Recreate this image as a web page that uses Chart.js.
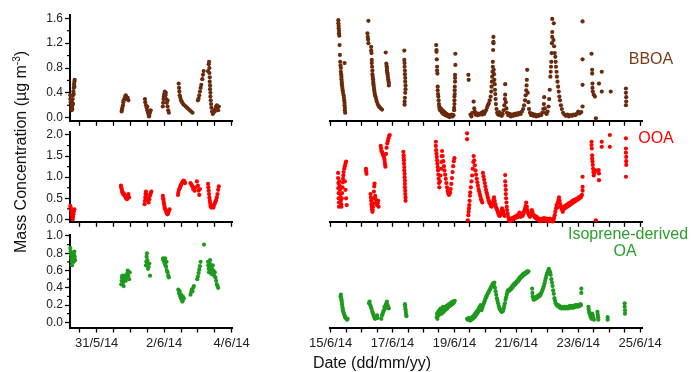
<!DOCTYPE html>
<html><head><meta charset="utf-8">
<script src="https://cdn.jsdelivr.net/npm/chart.js@4.4.1/dist/chart.umd.min.js"></script>
<style>
html,body{margin:0;padding:0;background:#fff;}
#wrap{position:relative;width:693px;height:372px;overflow:hidden;font-family:"Liberation Sans",Arial,sans-serif;}
canvas{position:absolute;left:0;top:0;}
.lbl{position:absolute;width:200px;text-align:center;white-space:nowrap;font-size:16px;line-height:16px;}
.ytitle{position:absolute;left:-129px;top:143px;width:300px;height:18px;line-height:18px;text-align:center;font-size:16px;color:#111;transform:rotate(-90deg);white-space:nowrap;}
.ytitle sup{font-size:10px;vertical-align:6px;line-height:0;}
</style></head><body>
<div id="wrap">
<canvas id="cL1" width="693" height="372"></canvas>
<canvas id="cR1" width="693" height="372"></canvas>
<canvas id="cL2" width="693" height="372"></canvas>
<canvas id="cR2" width="693" height="372"></canvas>
<canvas id="cL3" width="693" height="372"></canvas>
<canvas id="cR3" width="693" height="372"></canvas>
<div class="lbl" style="left:551px;top:51px;color:#7b3a16">BBOA</div>
<div class="lbl" style="left:556px;top:130px;color:#ff0000">OOA</div>
<div class="lbl" style="left:528px;top:226px;color:#2ca02c">Isoprene-derived</div>
<div class="lbl" style="left:525px;top:243px;color:#2ca02c">OA</div>
<div class="ytitle">Mass Concentration (µg m<sup>-3</sup>)</div>
<div class="lbl" style="left:272px;top:355px;color:#111">Date (dd/mm/yy)</div>
</div>
<script>
// x values: days, 0 = 31/5/14, 1 = 1/6/14, ..., 15 = 15/6/14
const xTicksLeft = [-0.5,0,0.5,1,1.5,2,2.5,3,3.5,4];
const xTicksRight = [15,15.5,16,16.5,17,17.5,18,18.5,19,19.5,20,20.5,21,21.5,22,22.5,23,23.5,24,24.5,25];
const xLabelValues = [0,2,4,15,17,19,21,23,25];
const xLabelTexts = ['31/5/14','2/6/14','4/6/14','15/6/14','17/6/14','19/6/14','21/6/14','23/6/14','25/6/14'];
const bboaTicks = [0,0.4,0.8,1.2,1.6];
const bboaMinor = [0.2,0.6,1.0,1.4];
const ooaTicks = [0,0.5,1.0,1.5,2.0];
const ooaMinor = [0.25,0.75,1.25,1.75];
const isoTicks = [0,0.2,0.4,0.6,0.8,1.0];
const isoMinor = [0.1,0.3,0.5,0.7,0.9];

const bboaLeft = [
[-0.78,0.36],[-0.78,0.30],[-0.77,0.25],[-0.76,0.20],[-0.75,0.15],[-0.74,0.12],[-0.73,0.18],[-0.72,0.24],[-0.71,0.30],[-0.70,0.36],[-0.69,0.42],[-0.68,0.48],[-0.67,0.54],[-0.66,0.58],[-0.65,0.61],[-0.66,0.50],[-0.68,0.38],[-0.70,0.22],[-0.72,0.14],
[0.74,0.10],[0.75,0.13],[0.76,0.16],[0.78,0.20],[0.79,0.25],[0.80,0.28],[0.82,0.30],[0.84,0.33],[0.86,0.36],[0.88,0.34],[0.90,0.30],[0.92,0.32],[0.94,0.28],
[1.43,0.30],[1.44,0.25],[1.46,0.20],[1.48,0.16],[1.50,0.12],[1.52,0.08],[1.54,0.05],[1.56,0.03],[1.58,0.08],[1.60,0.12],[1.50,0.18],[1.55,0.02],
[1.96,0.18],[1.97,0.24],[1.98,0.30],[1.99,0.34],[2.00,0.38],[2.02,0.42],[2.04,0.36],[2.06,0.30],[2.08,0.24],[2.10,0.18],[2.12,0.12],[2.14,0.08],[2.05,0.40],[2.10,0.28],
[2.43,0.55],[2.44,0.48],[2.45,0.42],[2.46,0.36],[2.48,0.32],[2.50,0.28],[2.53,0.25],[2.56,0.22],[2.60,0.20],[2.64,0.18],[2.68,0.16],[2.72,0.14],[2.76,0.12],[2.80,0.10],[2.84,0.08],
[3.00,0.28],[3.02,0.31],[3.04,0.36],[3.06,0.42],[3.08,0.48],[3.10,0.53],[3.13,0.62],[3.15,0.69],[3.17,0.75],
[3.30,0.75],[3.32,0.86],[3.33,0.90],[3.34,0.80],[3.34,0.72],[3.35,0.65],[3.35,0.58],[3.36,0.52],[3.36,0.46],[3.37,0.40],[3.37,0.34],[3.38,0.28],[3.39,0.22],[3.40,0.16],[3.42,0.10],[3.44,0.06],[3.46,0.08],[3.48,0.12],[3.50,0.10],[3.52,0.14],[3.54,0.18],[3.56,0.20],[3.58,0.16],[3.60,0.12],[3.62,0.18]
];
const bboaRight = [
[15.25,1.57],[15.25,1.52],[15.26,1.48],[15.26,1.44],[15.27,1.40],[15.27,1.36],[15.28,1.32],[15.29,1.17],[15.30,1.01],[15.31,0.90],[15.32,0.84],[15.33,0.80],[15.33,0.74],[15.34,0.70],[15.35,0.66],[15.35,0.62],[15.36,0.58],[15.36,0.55],[15.37,0.52],[15.38,0.48],[15.39,0.44],[15.40,0.40],[15.45,0.88],[15.42,0.36],[15.43,0.32],[15.44,0.28],[15.45,0.24],[15.45,0.20],[15.46,0.16],[15.46,0.12],[15.47,0.08],
[16.22,1.56],[16.19,1.36],[16.20,1.30],[16.21,1.26],[16.22,1.20],[16.31,1.14],[16.31,1.08],[16.32,1.04],[16.33,0.93],[16.33,0.88],[16.34,0.82],[16.35,0.76],[16.35,0.70],[16.36,0.66],[16.37,0.62],[16.38,0.58],[16.38,0.55],[16.39,0.52],[16.40,0.48],[16.41,0.44],[16.42,0.40],[16.43,0.37],[16.45,0.34],[16.47,0.30],[16.49,0.26],[16.52,0.22],[16.55,0.19],[16.58,0.17],[16.62,0.15],[16.66,0.13],
[16.78,1.05],[16.80,0.87],[16.81,0.83],[16.82,0.80],[16.82,0.76],[16.83,0.73],[16.84,0.70],[16.85,0.66],[16.86,0.62],[16.87,0.59],[16.88,0.56],[16.88,0.52],
[17.38,1.08],[17.38,0.93],[17.39,0.88],[17.39,0.82],[17.40,0.76],[17.40,0.70],[17.41,0.64],[17.41,0.58],[17.42,0.52],[17.42,0.46],[17.41,0.40],[17.40,0.32],[17.39,0.26],[17.39,0.21],
[18.41,1.17],[18.42,1.09],[18.42,1.06],[18.43,0.94],[18.44,0.82],[18.44,0.76],[18.45,0.71],[18.46,0.50],[18.46,0.44],[18.47,0.38],[18.48,0.34],[18.49,0.28],[18.50,0.22],[18.51,0.18],[18.52,0.14],[18.54,0.12],[18.56,0.15],[18.58,0.10],[18.60,0.08],[18.62,0.12],[18.64,0.06],[18.66,0.10],[18.68,0.05],[18.70,0.08],[18.72,0.04],[18.74,0.06],[18.76,0.03],[18.78,0.05],[18.80,0.02],[18.82,0.04],[18.85,0.01],[18.88,0.03],[18.91,0.05],[18.94,0.02],[18.97,0.04],
[19.03,1.03],[19.03,0.85],[19.02,0.69],[19.02,0.64],[19.02,0.58],[19.01,0.50],[19.01,0.44],[19.01,0.38],[19.00,0.34],[19.00,0.28],[19.00,0.22],[18.99,0.16],[18.99,0.12],
[19.45,0.69],[19.46,0.61],[19.52,0.05],[19.55,0.02],[19.58,0.08],[19.62,0.26],[19.64,0.15],[19.66,0.10],[19.68,0.05],[19.72,0.07],[19.75,0.04],[19.78,0.06],[19.82,0.05],
[19.87,0.08],[19.90,0.05],[19.93,0.10],[19.96,0.06],[19.99,0.09],[20.02,0.12],[20.05,0.16],[20.08,0.20],[20.11,0.23],[20.14,0.28],[20.17,0.34],[20.19,0.42],[20.20,0.50],[20.21,0.58],[20.22,0.66],[20.23,0.74],[20.24,0.82],[20.24,0.90],[20.25,1.09],[20.26,1.20],[20.26,1.22],[20.26,1.30],[20.27,0.77],[20.28,0.70],[20.29,0.61],[20.30,0.54],[20.31,0.45],[20.32,0.38],[20.33,0.30],[20.34,0.22],[20.36,0.14],[20.38,0.08],[20.41,0.05],[20.44,0.09],[20.47,0.04],[20.50,0.07],[20.53,0.03],[20.56,0.06],[20.59,0.12],[20.61,0.20],[20.63,0.30],[20.64,0.37],[20.64,0.54],[20.66,0.25],[20.68,0.15],[20.70,0.08],[20.74,0.04],[20.78,0.06],[20.82,0.02],[20.86,0.05],[20.90,0.03],[20.94,0.06],[20.98,0.04],[21.02,0.07],[21.06,0.05],[21.10,0.08],[21.14,0.06],[21.18,0.10],[21.22,0.14],[21.25,0.20],[21.28,0.28],[21.30,0.36],[21.32,0.44],[21.33,0.52],[21.34,0.61],[21.35,0.77],[21.37,0.40],[21.39,0.25],[21.41,0.14],[21.44,0.08],[21.48,0.04],[21.52,0.06],[21.56,0.03],[21.60,0.05],[21.64,0.02],[21.68,0.04],[21.72,0.03],[21.76,0.05],[21.80,0.04],[21.84,0.08],[21.87,0.14],[21.89,0.22],[21.90,0.33],[21.92,0.15],[21.95,0.08],[21.98,0.06],[22.01,0.10],[22.04,0.18],[22.06,0.30],[22.08,0.45],[22.10,0.66],[22.11,0.74],[22.12,0.82],[22.13,0.90],[22.14,1.04],[22.15,1.20],[22.16,1.30],[22.16,1.38],[22.16,1.59],[22.21,1.52],[22.20,1.25],[22.22,1.15],[22.24,1.04],[22.26,0.98],[22.27,0.90],[22.28,0.82],[22.30,0.74],[22.31,0.66],[22.33,0.58],[22.35,0.50],[22.37,0.42],[22.39,0.34],[22.41,0.28],[22.44,0.20],[22.47,0.14],[22.51,0.08],[22.55,0.05],[22.60,0.03],[22.65,0.05],[22.70,0.02],[22.75,0.04],[22.80,0.03],[22.85,0.05],[22.90,0.04],[22.95,0.06],[23.00,0.10],[23.05,0.07],[23.10,0.09],
[23.14,1.55],[23.14,0.94],[23.14,0.53],[23.14,0.18],[23.43,1.03],[23.45,0.77],[23.45,0.71],[23.46,0.55],[23.46,0.48],[23.47,0.42],[23.50,0.37],[23.54,0.34],[23.57,-0.01],[23.67,0.55],[23.76,0.74],[23.76,0.42],[24.05,0.42],[24.54,0.47],[24.54,0.40],[24.55,0.33],[24.55,0.26],[24.54,0.20]
];
const ooaLeft = [
[-0.78,0.32],[-0.77,0.28],[-0.76,0.22],[-0.75,0.18],[-0.74,0.12],[-0.73,0.08],[-0.72,0.04],[-0.71,0.00],[-0.70,0.06],[-0.69,0.12],[-0.68,0.18],[-0.67,0.22],[-0.66,0.24],
[0.72,0.80],[0.73,0.76],[0.74,0.72],[0.75,0.68],[0.76,0.64],[0.78,0.60],[0.80,0.62],[0.82,0.58],[0.84,0.55],[0.86,0.52],[0.88,0.50],[0.90,0.48],[0.92,0.56],[0.94,0.60],[0.96,0.52],
[1.42,0.36],[1.43,0.44],[1.44,0.52],[1.45,0.60],[1.46,0.66],[1.48,0.58],[1.50,0.50],[1.52,0.44],[1.54,0.40],[1.56,0.48],[1.58,0.56],[1.60,0.62],[1.62,0.66],
[1.96,0.56],[1.97,0.50],[1.98,0.46],[1.99,0.40],[2.00,0.35],[2.01,0.30],[2.02,0.26],[2.04,0.22],[2.06,0.18],[2.08,0.14],[2.10,0.12],[2.12,0.16],[2.14,0.20],[2.16,0.24],
[2.41,0.58],[2.42,0.64],[2.44,0.70],[2.46,0.74],[2.48,0.78],[2.50,0.82],[2.52,0.85],[2.54,0.88],[2.56,0.90],[2.58,0.92],[2.60,0.90],[2.62,0.86],
[2.78,0.86],[2.81,0.82],[2.84,0.78],[2.86,0.72],[2.90,0.68],[2.94,0.76],[2.97,0.90],[3.00,0.80],[3.02,0.68],[3.04,0.58],[3.06,0.72],
[3.30,0.84],[3.31,0.76],[3.32,0.68],[3.33,0.60],[3.34,0.52],[3.35,0.46],[3.36,0.40],[3.37,0.34],[3.38,0.30],[3.40,0.28],[3.42,0.30],[3.44,0.32],[3.46,0.28],[3.48,0.34],[3.50,0.38],[3.52,0.42],[3.54,0.46],[3.56,0.52],[3.58,0.60],[3.60,0.70],[3.62,0.78]
];
const ooaRight = [
[15.24,1.10],[15.24,0.98],[15.25,0.86],[15.25,0.74],[15.26,0.62],[15.26,0.50],[15.27,0.40],[15.27,0.30],[15.28,0.90],[15.29,0.80],[15.30,0.70],[15.31,0.60],[15.32,0.52],[15.33,0.44],[15.34,0.36],[15.35,0.30],[15.36,0.50],[15.37,0.62],[15.38,0.76],[15.39,0.88],[15.40,0.96],[15.41,1.04],[15.42,1.12],[15.44,1.20],[15.46,1.26],[15.48,1.32],[15.50,1.37],[15.46,0.90],[15.48,0.70],[15.50,0.50],[15.52,0.34],
[16.14,1.20],[16.15,1.14],[16.16,1.08],
[16.29,0.60],[16.30,0.52],[16.31,0.44],[16.32,0.36],[16.33,0.30],[16.34,0.24],[16.35,0.18],[16.36,0.22],[16.37,0.30],[16.38,0.38],[16.39,0.50],[16.40,0.66],[16.41,0.78],[16.42,0.85],[16.44,0.56],[16.46,0.48],[16.48,0.40],[16.50,0.34],[16.52,0.38],[16.54,0.44],[16.55,0.30],
[16.62,1.74],[16.63,1.68],[16.64,1.62],[16.66,1.60],[16.68,1.56],[16.70,1.52],[16.72,1.48],[16.74,1.42],[16.75,1.36],[16.76,1.30],[16.77,1.25],[16.79,1.55],[16.81,1.70],[16.83,1.80],[16.85,1.86],[16.87,1.92],[16.89,1.98],[16.91,2.00],
[17.35,1.60],[17.36,1.52],[17.36,1.46],[17.37,1.40],[17.37,1.32],[17.38,1.24],[17.38,1.16],[17.39,1.08],[17.39,1.00],[17.40,0.92],[17.40,0.84],[17.40,0.76],[17.41,0.68],[17.41,0.60],[17.42,0.52],[17.42,0.44],
[18.40,1.84],[18.40,1.74],[18.41,1.64],[18.42,1.56],[18.43,1.48],[18.44,1.40],[18.45,1.32],[18.46,1.24],[18.47,1.16],[18.48,1.06],[18.49,0.96],[18.50,0.86],[18.51,0.76],[18.53,0.90],[18.55,1.04],[18.57,1.20],[18.58,1.36],[18.59,1.50],[18.60,1.62],[18.62,1.50],[18.64,1.38],[18.66,1.26],[18.68,1.16],[18.70,1.06],[18.72,0.96],[18.74,0.86],[18.76,0.76],[18.78,0.68],[18.80,0.62],[18.82,0.58],[18.84,0.60],[18.86,0.64],[18.88,0.72],[18.90,0.84],[18.92,0.98],[18.94,1.12],[18.96,1.26],[18.98,1.38],[19.00,1.45],
[19.41,2.04],[19.41,1.90],[19.43,-0.02],[19.45,0.10],[19.46,0.18],[19.47,0.26],[19.48,0.34],[19.49,0.44],[19.50,0.56],[19.51,0.64],[19.53,0.76],[19.55,0.90],[19.57,1.04],[19.59,1.20],[19.61,1.36],[19.62,1.50],[19.64,1.40],[19.66,1.28],[19.68,1.16],[19.70,1.06],[19.72,0.96],[19.74,0.88],[19.76,0.80],[19.78,0.72],[19.80,0.66],[19.82,0.60],[19.84,0.54],[19.86,0.48],[19.88,0.44],[19.90,0.40],
[19.92,1.10],[19.94,1.02],[19.96,0.94],[19.98,0.86],[20.00,0.78],[20.02,0.70],[20.04,0.64],[20.06,0.58],[20.08,0.52],[20.10,0.46],[20.12,0.42],[20.14,0.38],[20.16,0.36],[20.18,0.32],[20.20,0.30],[20.22,0.34],[20.24,0.40],[20.26,0.46],[20.28,0.52],[20.30,0.44],[20.32,0.36],[20.34,0.30],[20.36,0.26],[20.38,0.22],[20.40,0.18],[20.42,0.14],[20.44,0.10],[20.46,0.08],[20.48,0.10],[20.50,0.14],[20.52,0.20],[20.54,0.26],[20.56,0.22],[20.58,0.18],[20.60,0.12],[20.62,0.08],[20.64,1.05],[20.64,0.90],[20.65,0.80],[20.66,0.70],[20.66,0.60],[20.67,0.50],[20.68,0.40],[20.69,0.30],[20.70,0.22],[20.72,0.14],[20.74,0.06],[20.76,0.00],[20.78,-0.04],[20.80,0.00],[20.82,-0.03],[20.84,0.02],[20.86,-0.02],[20.88,0.03],[20.90,0.00],[20.92,0.05],[20.94,0.02],[20.96,0.06],[20.98,0.04],[21.00,0.08],[21.02,0.05],[21.04,0.10],[21.06,0.06],[21.08,0.12],[21.10,0.16],[21.12,0.10],[21.14,0.06],[21.16,0.10],[21.18,0.14],[21.20,0.08],[21.22,0.12],[21.24,0.16],[21.26,0.20],[21.28,0.26],[21.30,0.32],[21.32,0.40],[21.34,0.30],[21.36,0.22],[21.38,0.16],[21.40,0.12],[21.42,0.08],[21.44,0.06],[21.46,0.10],[21.48,0.16],[21.50,0.22],[21.52,0.18],[21.54,0.12],[21.56,0.10],[21.58,0.06],[21.60,0.08],[21.62,0.04],[21.64,0.02],[21.66,0.06],[21.68,0.03],[21.70,0.00],[21.72,-0.02],[21.74,0.02],[21.76,-0.03],[21.78,0.00],[21.80,-0.04],[21.82,0.01],[21.84,-0.02],[21.86,0.02],[21.88,-0.01],[21.90,0.03],[21.92,0.00],[21.94,-0.03],[21.96,0.02],[21.98,-0.02],[22.00,0.01],[22.02,-0.04],[22.04,0.00],[22.06,-0.03],[22.08,0.02],[22.10,-0.02],[22.12,0.00],[22.14,-0.04],[22.16,-0.01],[22.18,-0.05],[22.20,0.00],[22.22,0.04],[22.24,0.10],[22.26,0.18],[22.28,0.26],[22.30,0.34],[22.32,0.28],[22.34,0.40],[22.36,0.46],[22.38,0.52],[22.40,0.44],[22.42,0.36],[22.44,0.30],[22.46,0.26],[22.48,0.22],[22.50,0.18],[22.52,0.24],[22.54,0.30],[22.56,0.26],[22.58,0.32],[22.60,0.28],[22.62,0.34],[22.64,0.30],[22.66,0.36],[22.68,0.32],[22.70,0.38],[22.72,0.34],[22.74,0.40],[22.76,0.36],[22.78,0.42],[22.80,0.38],[22.82,0.44],[22.84,0.40],[22.86,0.46],[22.88,0.42],[22.90,0.47],[22.92,0.44],[22.94,0.48],[22.96,0.46],[22.98,0.50],[23.00,0.48],[23.02,0.52],[23.04,0.50],[23.06,0.54],[23.08,0.52],[23.10,0.56],[23.12,0.58],[23.14,1.01],[23.14,0.77],[23.14,0.68],
[23.43,1.84],[23.43,1.76],[23.44,1.68],[23.45,1.52],[23.45,1.44],[23.46,1.37],[23.47,1.29],[23.48,1.20],[23.49,1.12],[23.50,1.04],[23.52,1.10],[23.54,1.14],[23.56,1.16],[23.57,-0.02],[23.66,1.17],[23.67,1.09],[23.67,0.93],[23.76,1.84],[23.76,1.72],[24.02,2.00],[24.02,1.72],[24.54,1.92],[24.54,1.68],[24.54,1.58],[24.55,1.48],[24.55,1.38],[24.55,1.29],[24.54,1.01]
];
const isoLeft = [
[-0.78,0.86],[-0.77,0.82],[-0.76,0.78],[-0.75,0.74],[-0.74,0.70],[-0.73,0.66],[-0.72,0.72],[-0.71,0.76],[-0.70,0.80],[-0.69,0.74],[-0.68,0.70],[-0.67,0.78],[-0.66,0.82],[-0.65,0.76],[-0.64,0.72],
[0.73,0.44],[0.74,0.48],[0.75,0.52],[0.76,0.54],[0.78,0.46],[0.80,0.42],[0.82,0.50],[0.84,0.54],[0.86,0.48],[0.88,0.52],[0.90,0.56],[0.92,0.60],[0.94,0.54],[0.96,0.50],[0.98,0.58],
[1.46,0.66],[1.47,0.70],[1.48,0.76],[1.49,0.80],[1.50,0.72],[1.51,0.68],[1.52,0.62],[1.54,0.64],[1.56,0.68],[1.58,0.54],
[1.97,0.74],[1.98,0.72],[2.00,0.70],[2.02,0.68],[2.04,0.66],[2.06,0.64],[2.08,0.60],[2.10,0.58],[2.12,0.54],[2.14,0.52],[2.03,0.74],[2.07,0.70],
[2.42,0.38],[2.44,0.34],[2.46,0.32],[2.48,0.30],[2.50,0.28],[2.52,0.26],[2.54,0.24],[2.56,0.26],[2.58,0.28],[2.46,0.36],[2.50,0.32],[2.55,0.30],
[2.78,0.32],[2.80,0.35],[2.82,0.38],[2.84,0.36],[2.86,0.40],[2.88,0.42],
[2.98,0.50],[3.00,0.53],[3.02,0.57],[3.04,0.61],[3.06,0.65],[3.08,0.70],[3.18,0.90],
[3.30,0.70],[3.31,0.66],[3.32,0.62],[3.33,0.58],[3.34,0.64],[3.35,0.68],[3.36,0.72],[3.37,0.66],[3.38,0.60],[3.40,0.56],[3.42,0.62],[3.44,0.66],[3.46,0.60],[3.48,0.54],[3.50,0.58],[3.52,0.52],[3.54,0.48],[3.56,0.44],[3.58,0.42],[3.60,0.40]
];
const isoRight = [
[15.32,0.30],[15.33,0.32],[15.34,0.28],[15.35,0.26],[15.36,0.24],[15.37,0.21],[15.38,0.18],[15.39,0.16],[15.40,0.14],[15.41,0.12],[15.43,0.10],[15.45,0.08],[15.47,0.06],[15.49,0.05],[15.51,0.04],[15.53,0.03],[15.55,0.04],
[16.24,0.22],[16.26,0.24],[16.28,0.20],[16.30,0.18],[16.32,0.16],[16.34,0.13],[16.36,0.11],[16.38,0.09],[16.40,0.07],[16.42,0.05],[16.44,0.04],[16.46,0.06],[16.48,0.05],[16.50,0.08],[16.52,0.05],
[16.64,0.04],[16.66,0.08],[16.68,0.10],[16.70,0.12],[16.72,0.14],[16.74,0.18],[16.76,0.16],[16.78,0.20],[16.80,0.22],[16.82,0.24],[16.84,0.20],[16.86,0.18],[16.88,0.16],
[17.40,0.21],[17.41,0.18],[17.42,0.15],[17.43,0.12],[17.44,0.09],[17.45,0.07],
[18.43,0.06],[18.44,0.10],[18.45,0.04],[18.47,0.12],[18.49,0.08],[18.51,0.14],[18.53,0.10],[18.55,0.16],[18.57,0.12],[18.59,0.10],[18.61,0.14],[18.63,0.18],[18.65,0.12],[18.67,0.16],[18.69,0.14],[18.71,0.18],[18.73,0.15],[18.75,0.19],[18.77,0.16],[18.79,0.20],[18.81,0.18],[18.83,0.21],[18.85,0.19],[18.87,0.22],[18.89,0.20],[18.91,0.23],[18.93,0.21],[18.95,0.24],[18.97,0.22],[18.99,0.24],[19.01,0.25],
[19.41,0.04],[19.43,0.03],[19.45,0.05],[19.47,0.03],[19.49,0.04],[19.51,0.02],[19.53,0.05],[19.55,0.03],[19.57,0.06],[19.59,0.04],[19.61,0.05],[19.63,0.08],[19.65,0.06],[19.67,0.10],[19.69,0.08],[19.71,0.12],[19.73,0.10],[19.75,0.14],[19.77,0.12],[19.79,0.16],[19.81,0.18],[19.83,0.16],[19.85,0.20],
[19.87,0.14],[19.89,0.16],[19.91,0.18],[19.93,0.20],[19.95,0.22],[19.97,0.24],[19.99,0.26],[20.01,0.28],[20.03,0.30],[20.05,0.31],[20.07,0.33],[20.09,0.34],[20.11,0.35],[20.13,0.37],[20.15,0.38],[20.17,0.40],[20.19,0.41],[20.21,0.42],[20.23,0.44],[20.25,0.45],[20.27,0.43],[20.29,0.46],[20.31,0.40],[20.33,0.36],[20.35,0.32],[20.37,0.28],[20.39,0.25],[20.41,0.22],[20.43,0.19],[20.45,0.17],[20.47,0.15],[20.49,0.14],[20.51,0.13],[20.53,0.12],[20.55,0.14],[20.57,0.13],[20.59,0.16],[20.61,0.19],[20.63,0.22],[20.65,0.26],[20.67,0.29],[20.69,0.32],[20.71,0.35],[20.73,0.37],[20.75,0.36],[20.77,0.38],[20.79,0.37],[20.81,0.39],[20.83,0.40],[20.85,0.39],[20.87,0.42],[20.89,0.41],[20.91,0.44],[20.93,0.43],[20.95,0.45],[20.97,0.44],[20.99,0.46],[21.01,0.47],[21.03,0.48],[21.05,0.47],[21.07,0.50],[21.09,0.49],[21.11,0.52],[21.13,0.51],[21.15,0.53],[21.17,0.54],[21.19,0.53],[21.21,0.55],[21.23,0.56],[21.25,0.55],[21.27,0.57],[21.29,0.56],[21.31,0.58],[21.33,0.57],[21.35,0.59],[21.37,0.58],[21.39,0.59],
[21.51,0.39],[21.52,0.34],[21.53,0.30],[21.55,0.27],[21.57,0.26],[21.59,0.28],[21.61,0.27],[21.63,0.29],[21.65,0.28],[21.67,0.30],[21.69,0.29],[21.71,0.31],[21.73,0.30],[21.75,0.32],[21.77,0.31],[21.79,0.33],[21.81,0.34],[21.83,0.36],[21.85,0.38],[21.87,0.40],[21.89,0.42],[21.91,0.45],[21.93,0.48],[21.95,0.51],[21.97,0.54],[21.99,0.56],[22.01,0.58],[22.03,0.60],[22.05,0.62],[22.07,0.60],[22.09,0.58],[22.11,0.55],[22.13,0.50],[22.15,0.46],[22.17,0.42],[22.19,0.37],[22.21,0.33],[22.23,0.28],[22.25,0.25],[22.27,0.22],[22.29,0.21],[22.31,0.20],[22.33,0.19],[22.35,0.20],[22.37,0.18],[22.39,0.19],[22.41,0.17],[22.43,0.18],[22.45,0.16],[22.47,0.18],[22.49,0.17],[22.51,0.18],[22.53,0.16],[22.55,0.17],[22.57,0.18],[22.59,0.16],[22.61,0.17],[22.63,0.18],[22.65,0.17],[22.67,0.16],[22.69,0.18],[22.71,0.17],[22.73,0.19],[22.75,0.17],[22.77,0.18],[22.79,0.17],[22.81,0.19],[22.83,0.18],[22.85,0.17],[22.87,0.19],[22.89,0.18],[22.91,0.20],[22.93,0.18],[22.95,0.19],[22.97,0.20],[22.99,0.18],[23.01,0.19],[23.03,0.20],[23.05,0.19],[23.07,0.21],[23.09,0.20],[23.10,0.39],[23.10,0.34],
[23.33,0.18],[23.34,0.15],[23.35,0.12],[23.37,0.10],[23.39,0.08],[23.41,0.06],[23.43,0.04],[23.45,0.10],[23.47,0.08],[23.49,0.05],[23.51,0.03],[23.62,0.12],[23.63,0.09],[23.64,0.06],[23.65,0.03],[23.95,0.06],[23.95,0.03],[24.50,0.22],[24.50,0.18],[24.51,0.14],[24.51,0.10]
];

const FONT = '"Liberation Sans", Arial, sans-serif';
const minorTickPlugin = {
  id: 'minorTicks',
  afterDraw(chart, args, opts) {
    const vals = opts && opts.values;
    if (!vals) return;
    const s = chart.scales.y, ctx = chart.ctx;
    ctx.save();
    ctx.strokeStyle = '#000';
    ctx.lineWidth = 1.2;
    vals.forEach(v => {
      const p = s.getPixelForValue(v);
      ctx.beginPath(); ctx.moveTo(s.right - 3, p); ctx.lineTo(s.right, p); ctx.stroke();
    });
    ctx.restore();
  }
};

function xLabel(v) {
  const i = xLabelValues.findIndex(t => Math.abs(t - v) < 1e-6);
  return i >= 0 ? xLabelTexts[i] : '';
}

function panel(id, pts, color, left, row, showX) {
  const xt = left ? xTicksLeft : xTicksRight;
  const gridOpts = { display: true, drawOnChartArea: false, drawTicks: true, tickLength: 5, tickWidth: 1.3, color: '#000', tickColor: '#000' };
  const borderOpts = { display: true, color: '#000', width: 2 };
  return new Chart(document.getElementById(id), {
    type: 'scatter',
    data: { datasets: [{ data: pts.map(([x, y]) => ({ x, y })), pointRadius: 2.1, pointHoverRadius: 2.1, pointBorderWidth: 0, backgroundColor: color, borderColor: color, clip: 6 }] },
    options: {
      responsive: false, animation: false, devicePixelRatio: 1, events: [],
      layout: { padding: { left: left ? 30 : 290, right: left ? 461 : 51, top: row.top, bottom: 372 - row.bottom - 25 } },
      plugins: { legend: { display: false }, tooltip: { enabled: false }, minorTicks: { values: left ? row.minor : null } },
      scales: {
        x: {
          type: 'linear', min: left ? -0.79 : 14.98, max: left ? 4.01 : 25.06,
          afterBuildTicks: s => { s.ticks = xt.map(v => ({ value: v })); },
          afterFit: s => { s.height = 25; s.paddingLeft = 0; s.paddingRight = 0; },
          ticks: { autoSkip: false, maxRotation: 0, minRotation: 0, padding: 3, color: '#222', font: { family: FONT, size: 13 },
                   callback: v => showX ? xLabel(v) : '' },
          grid: gridOpts, border: borderOpts
        },
        y: {
          type: 'linear', display: left, min: row.min, max: row.max,
          afterBuildTicks: s => { s.ticks = row.ticks.map(v => ({ value: v })); },
          afterFit: s => { s.width = 40; s.paddingTop = 0; s.paddingBottom = 0; },
          ticks: { padding: 2, color: '#222', font: { family: FONT, size: 12 }, callback: v => Number(v).toFixed(1) },
          grid: gridOpts, border: borderOpts
        }
      }
    },
    plugins: [minorTickPlugin]
  });
}

const row1 = { top: 14.6, bottom: 120.8, min: -0.05, max: 1.66, ticks: bboaTicks, minor: bboaMinor };
const row2 = { top: 131.6, bottom: 221.8, min: -0.057, max: 2.08, ticks: ooaTicks, minor: ooaMinor };
const row3 = { top: 235.1, bottom: 327.5, min: -0.06, max: 1.01, ticks: isoTicks, minor: isoMinor };
const BROWN = '#6a2a0c', RED = '#ff0000', GREEN = '#1e9a1e';
panel('cL1', bboaLeft, BROWN, true, row1, false);
panel('cR1', bboaRight, BROWN, false, row1, false);
panel('cL2', ooaLeft, RED, true, row2, false);
panel('cR2', ooaRight, RED, false, row2, false);
panel('cL3', isoLeft, GREEN, true, row3, true);
panel('cR3', isoRight, GREEN, false, row3, true);
</script>
</body></html>
